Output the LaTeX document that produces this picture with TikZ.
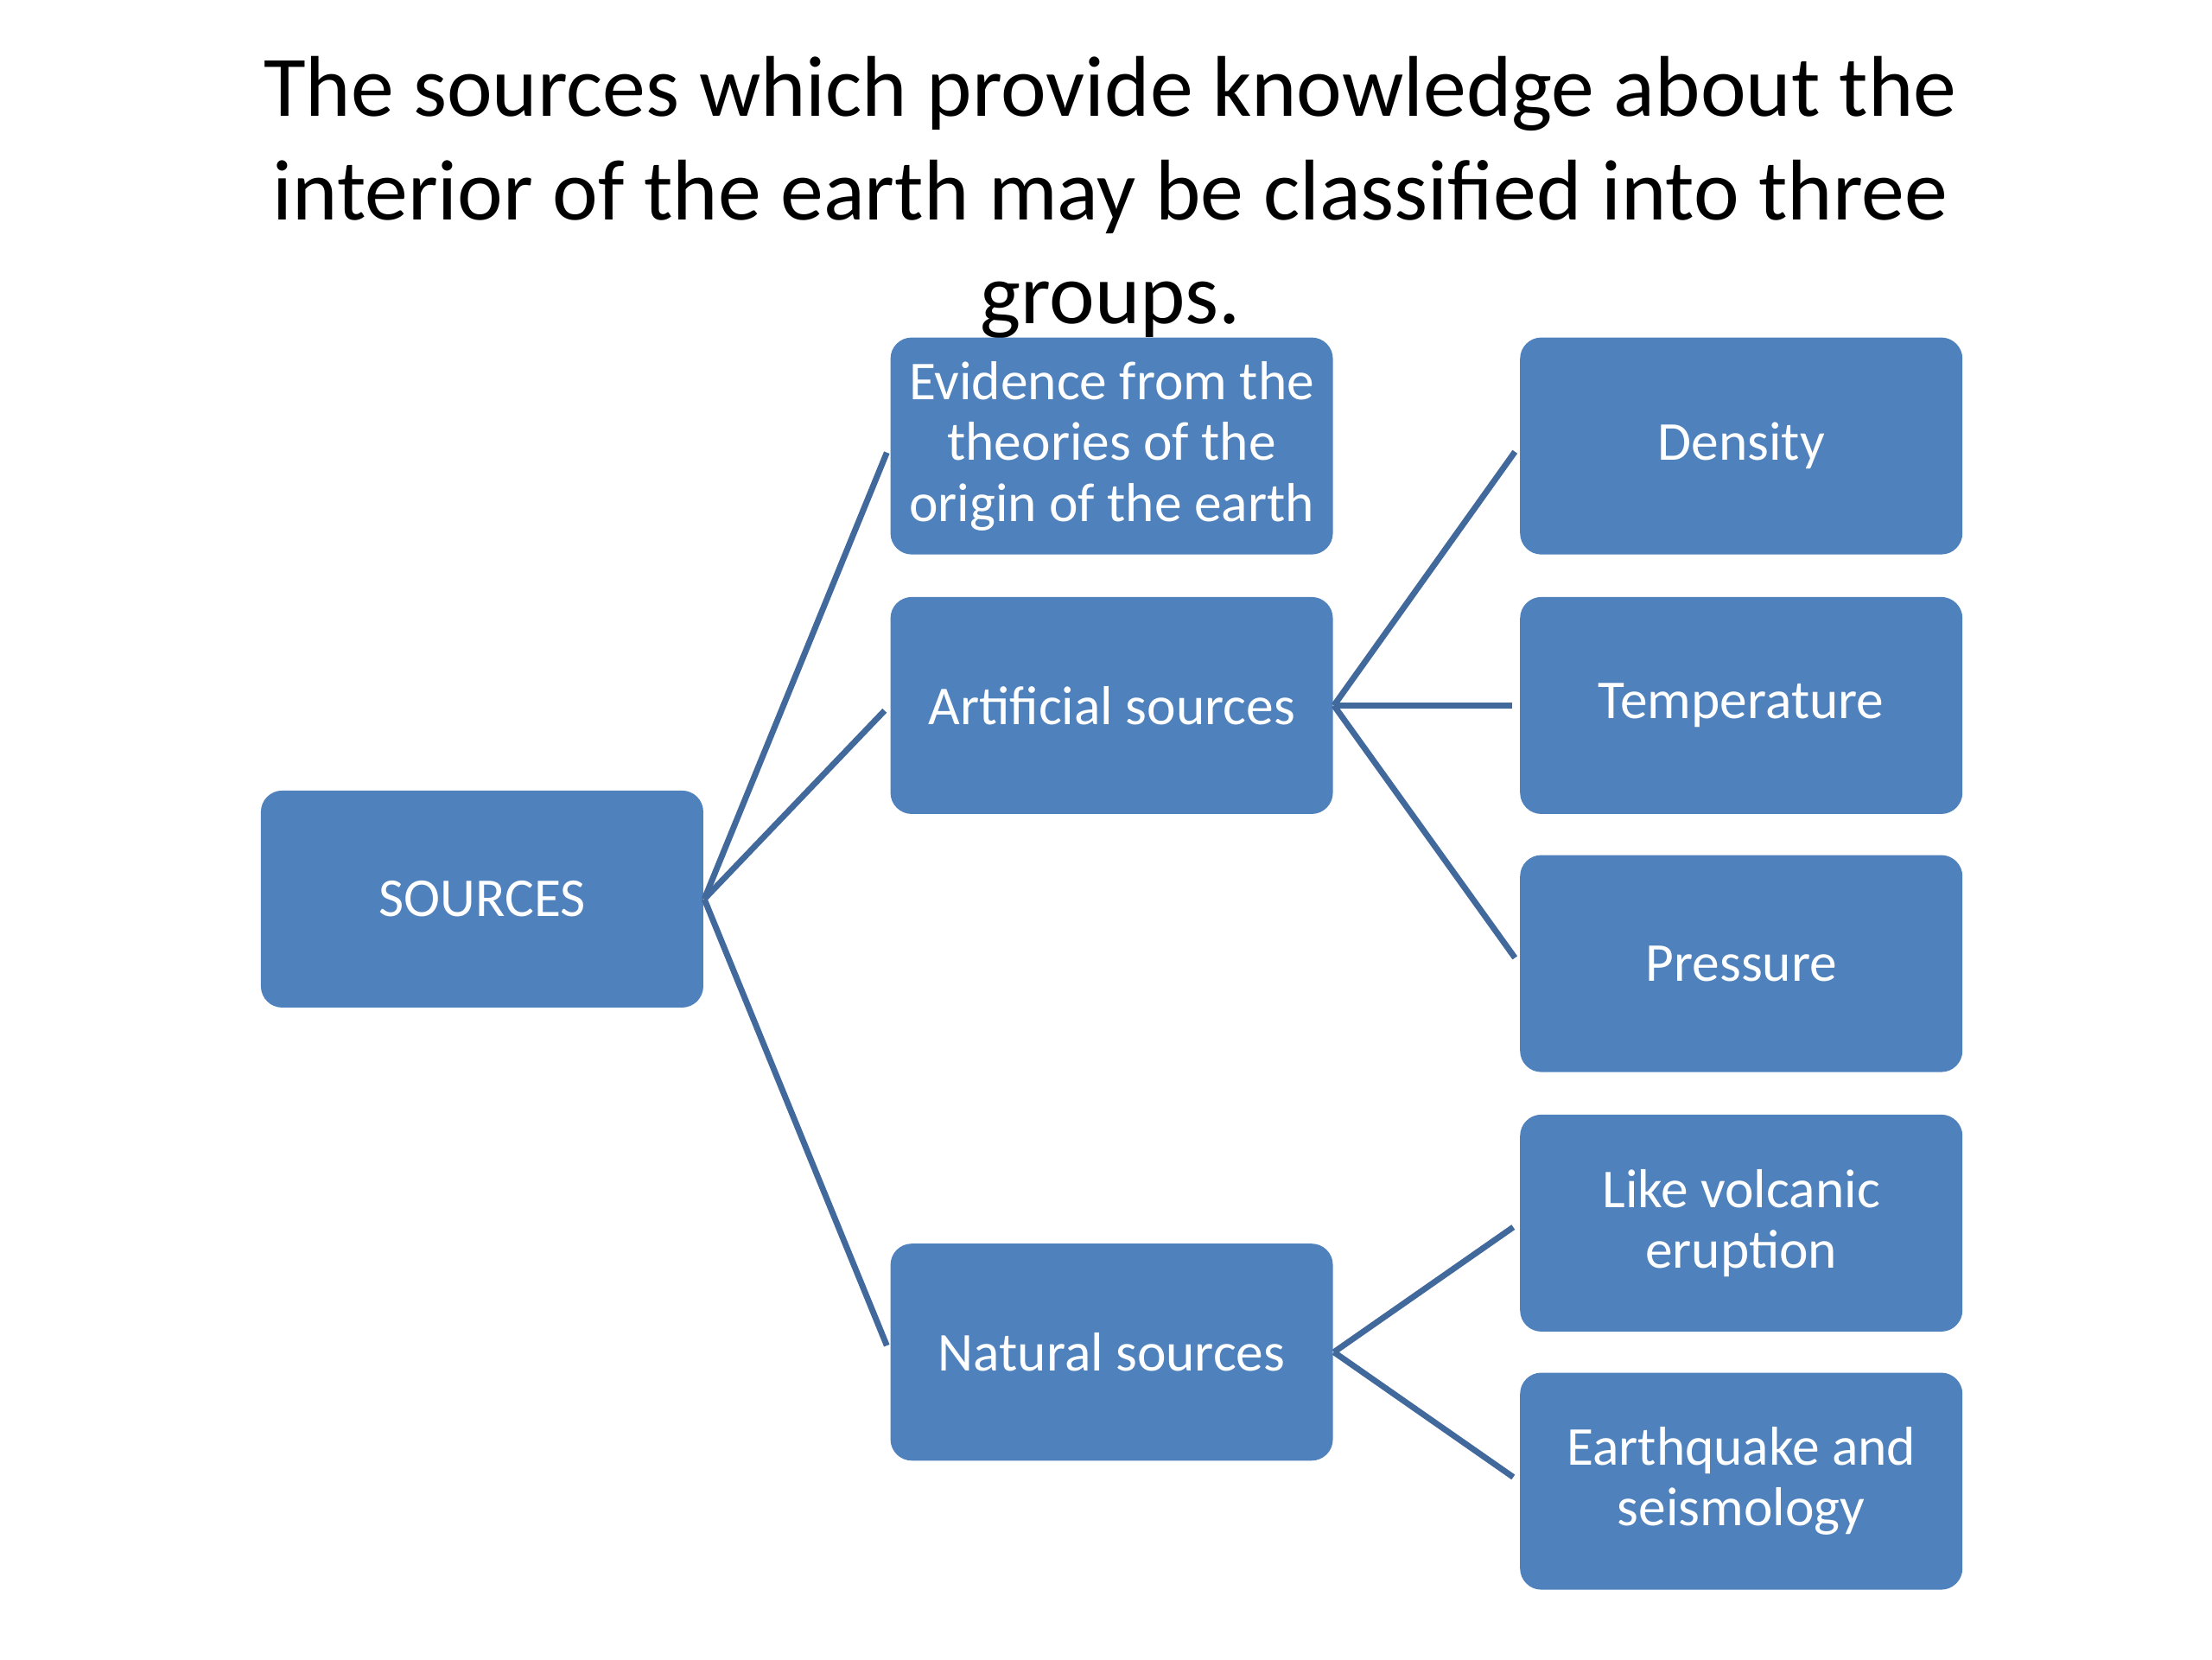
\documentclass[tikz,border=0pt]{standalone}
\usepackage{fontspec}
\setmainfont{Carlito}
\definecolor{boxblue}{HTML}{4F81BD}
\definecolor{lineblue}{HTML}{41699C}

\begin{document}
\begin{tikzpicture}[
	box/.style={fill=boxblue, rounded corners=0.15cm, minimum width=3.12cm, minimum height=1.53cm, inner sep=0pt, align=center, text=white, font=\fontsize{11}{12.2}\selectfont},
	link/.style={draw=lineblue, line width=1.2pt, shorten >=0.05cm}]
	\useasboundingbox (0,0) rectangle (15.6,-11.7);
	\node[align=center, font=\fontsize{17.3}{20.8}\selectfont] (title) at (7.83,-1.39) {The sources which provide knowledge about the\\interior of the earth may be classified into three\\groups.};
	\node[box] (src) at (3.40,-6.34) {SOURCES};
	\node[box] (evid) at (7.84,-3.145) {Evidence from the\\theories of the\\origin of the earth};
	\node[box] (artif) at (7.84,-4.975) {Artificial sources};
	\node[box] (natur) at (7.84,-9.535) {Natural sources};
	\node[box] (dens) at (12.28,-3.145) {Density};
	\node[box] (temp) at (12.28,-4.975) {Temperature};
	\node[box] (pres) at (12.28,-6.795) {Pressure};
	\node[box] (volc) at (12.28,-8.625) {Like volcanic\\eruption};
	\node[box] (quake) at (12.28,-10.445) {Earthquake and\\seismology};
	\draw[link] (src.east) -- (evid.west);
	\draw[link] (src.east) -- (artif.west);
	\draw[link] (src.east) -- (natur.west);
	\draw[link] (artif.east) -- (dens.west);
	\draw[link] (artif.east) -- (temp.west);
	\draw[link] (artif.east) -- (pres.west);
	\draw[link] (natur.east) -- (volc.west);
	\draw[link] (natur.east) -- (quake.west);
\end{tikzpicture}
\end{document}
